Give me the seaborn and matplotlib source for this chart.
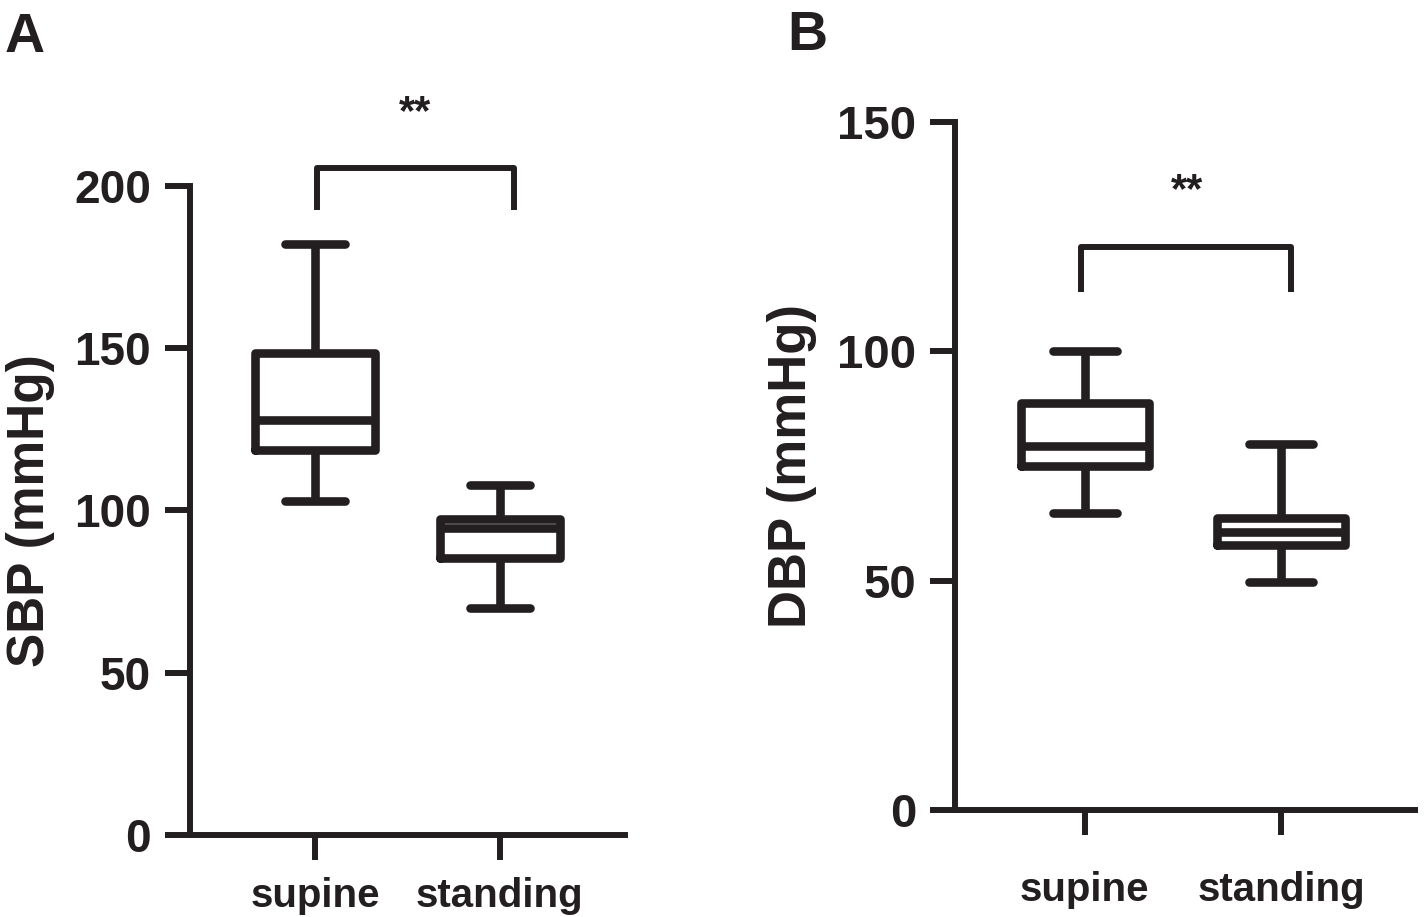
import numpy as np
import pandas as pd
import seaborn as sns
import matplotlib.pyplot as plt

# box stats: low whisker, Q1, median, Q3, high whisker
groups = ["supine", "standing"]
sbp_supine = [103, 118.5, 128, 148.5, 182]
sbp_standing = [70, 85.5, 94.5, 97.5, 108]
dbp_supine = [64.7, 75, 79.3, 88.7, 100]
dbp_standing = [49.8, 57.8, 60.7, 63.6, 79.8]

sbp_ticks = [0, 50, 100, 150, 200]
dbp_ticks = [0, 50, 100, 150]
sig_label = "**"

ink = "#231f20"

sns.set_style("ticks")
plt.rcParams["font.family"] = ["Liberation Sans", "DejaVu Sans"]
plt.rcParams["font.weight"] = "bold"
plt.rcParams["axes.labelweight"] = "bold"


def make_frame(a, b):
    return pd.DataFrame({"pos": [groups[0]] * len(a) + [groups[1]] * len(b),
                         "val": list(a) + list(b)})


def panel(ax, df, ticks, ylabel, xlim, tick_fs, label_fs, xpad, bracket, star_xy):
    sns.boxplot(data=df, x="pos", y="val", order=groups, ax=ax,
                whis=(0, 100), width=0.65, fill=False, color=ink,
                linecolor=ink, linewidth=6.2, showfliers=False,
                boxprops=dict(solid_joinstyle="round"),
                medianprops=dict(solid_capstyle="butt"))
    ax.set_ylim(ticks[0], ticks[-1])
    ax.set_yticks(ticks)
    ax.set_xlim(*xlim)
    ax.set_xlabel("")
    ax.set_ylabel(ylabel, fontsize=label_fs, fontweight="bold", color=ink,
                  labelpad=14)
    sns.despine(ax=ax)
    for s in ["left", "bottom"]:
        ax.spines[s].set_linewidth(4.3)
        ax.spines[s].set_color(ink)
        ax.spines[s].set_capstyle("projecting")
    ax.tick_params(axis="both", direction="out", length=18, width=4.3,
                   color=ink, labelcolor=ink)
    ax.tick_params(axis="y", labelsize=tick_fs, pad=10)
    ax.tick_params(axis="x", labelsize=29, pad=xpad)
    for t in ax.get_xticklabels() + ax.get_yticklabels():
        t.set_fontweight("bold")
    (x0, x1), (y0, y1) = bracket
    ax.plot([x0, x0, x1, x1], [y0, y1, y1, y0], color=ink, lw=4.3,
            clip_on=False, solid_joinstyle="round", solid_capstyle="butt")
    ax.text(star_xy[0], star_xy[1], sig_label, ha="center", va="center",
            fontsize=30, fontweight="bold", color=ink, clip_on=False)


fig = plt.figure(figsize=(14.24, 9.17), dpi=100)
ax_a = fig.add_axes([0.1334, 0.0894, 0.3055, 0.7078])
ax_b = fig.add_axes([0.6706, 0.1167, 0.3230, 0.7503])

panel(ax_a, make_frame(sbp_supine, sbp_standing), sbp_ticks, "SBP (mmHg)",
      (-0.68, 1.68), 33, 37, 12, ((0.01, 1.08), (192.6, 205.5)), (0.54, 222.5))
panel(ax_b, make_frame(dbp_supine, dbp_standing), dbp_ticks, "DBP (mmHg)",
      (-0.66, 1.68), 34, 38, 26, ((-0.017, 1.05), (113, 122.7)), (0.52, 135))

fig.text(0.0035, 0.943, "A", fontsize=40, fontweight="bold", color=ink)
fig.text(0.553, 0.945, "B", fontsize=40, fontweight="bold", color=ink)

fig.savefig("out.png", dpi=100)
